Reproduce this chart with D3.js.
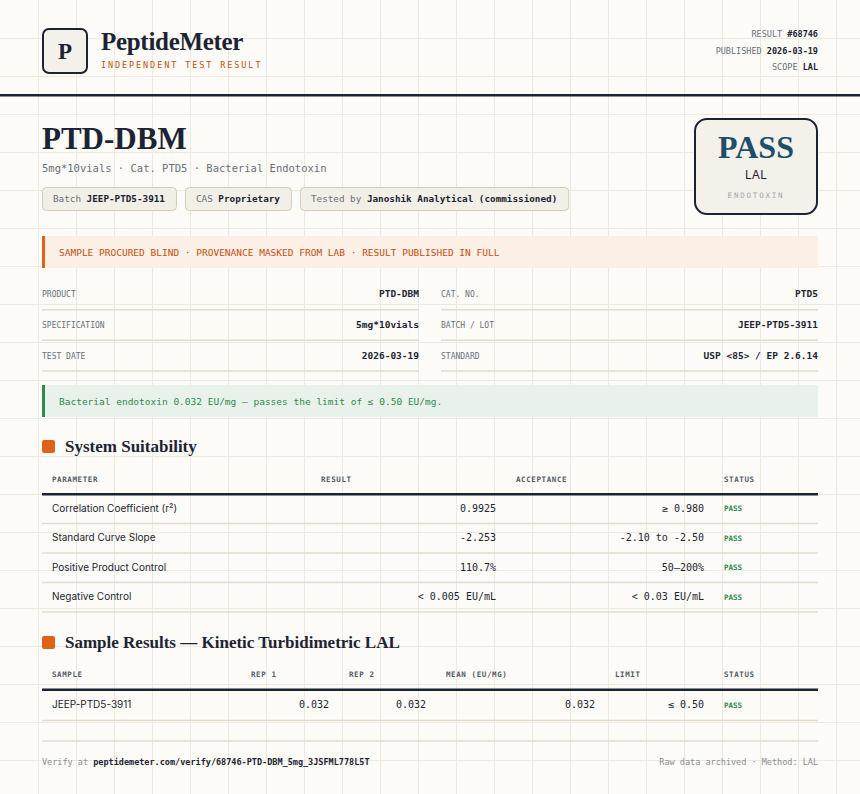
<!DOCTYPE html>
<html>
<head>
<meta charset="utf-8">
<script src="https://cdn.jsdelivr.net/npm/d3@7"></script>
<style>
  body { margin: 0; background: #fcfbf7; }
  svg { display: block; }
</style>
</head>
<body>
<svg id="page"></svg>
<script>
// ---- data ----
const headerMeta = [["RESULT", "#68746"], ["PUBLISHED", "2026-03-19"], ["SCOPE", "LAL"]];
const pills = [["Batch", "JEEP-PTD5-3911"], ["CAS", "Proprietary"], ["Tested by", "Janoshik Analytical (commissioned)"]];
const infoLeft = [["PRODUCT", "PTD-DBM"], ["SPECIFICATION", "5mg*10vials"], ["TEST DATE", "2026-03-19"]];
const infoRight = [["CAT. NO.", "PTD5"], ["BATCH / LOT", "JEEP-PTD5-3911"], ["STANDARD", "USP <85> / EP 2.6.14"]];
const suitColumns = ["PARAMETER", "RESULT", "ACCEPTANCE", "STATUS"];
const suitParams = ["Correlation Coefficient (r²)", "Standard Curve Slope", "Positive Product Control", "Negative Control"];
const suitResults = ["0.9925", "-2.253", "110.7%", "< 0.005 EU/mL"];
const suitAccept = ["≥ 0.980", "-2.10 to -2.50", "50–200%", "< 0.03 EU/mL"];
const suitStatus = ["PASS", "PASS", "PASS", "PASS"];
const sampleColumns = ["SAMPLE", "REP 1", "REP 2", "MEAN (EU/MG)", "LIMIT", "STATUS"];
const sampleRows = [["JEEP-PTD5-3911", "0.032", "0.032", "0.032", "≤ 0.50", "PASS"]];

const W = 860, H = 794;
const SERIF = "'Liberation Serif', 'DejaVu Serif', serif";
const MONO = "'DejaVu Sans Mono', 'Liberation Mono', monospace";
const SANS = "Inter, 'Noto Sans', sans-serif";
const INK = "#1c2433", GRAY = "#6b6f7a", ORANGE = "#c2500f", GREEN = "#2f8a4e", RULE = "#e3dccd";

const svg = d3.select("#page").attr("width", W).attr("height", H);

// background grid
const grid = svg.append("g").attr("stroke", "#ece9e1").attr("stroke-width", 1);
grid.selectAll("line.v").data(d3.range(38, W, 38)).join("line")
    .attr("x1", d => d + 0.5).attr("x2", d => d + 0.5).attr("y1", 0).attr("y2", H);
grid.selectAll("line.h").data(d3.range(38, H, 38)).join("line")
    .attr("y1", d => d + 0.5).attr("y2", d => d + 0.5).attr("x1", 0).attr("x2", W);

function text(g, x, y, str, o = {}) {
    return g.append("text").attr("x", x).attr("y", y).text(str)
        .attr("font-family", o.family || MONO).attr("font-size", o.size || 10)
        .attr("font-weight", o.weight || "normal").attr("fill", o.fill || INK)
        .attr("text-anchor", o.anchor || "start")
        .attr("letter-spacing", o.ls || 0);
}

// mixed label + value text
function pair(g, x, y, label, value, o = {}) {
    const t = g.append("text").attr("x", x).attr("y", y)
        .attr("font-family", MONO).attr("font-size", o.size || 9)
        .attr("text-anchor", o.anchor || "start");
    t.append("tspan").attr("fill", GRAY).text(label + " ");
    t.append("tspan").attr("fill", INK).attr("font-weight", "bold").text(value);
    return t;
}

// ---- header ----
svg.append("rect").attr("x", 43).attr("y", 29).attr("width", 44).attr("height", 44).attr("rx", 6)
    .attr("fill", "#f4f1ea").attr("stroke", INK).attr("stroke-width", 2);
text(svg, 65, 59, "P", {family: SERIF, size: 23, weight: "bold", anchor: "middle"});
text(svg, 101, 50, "PeptideMeter", {family: SERIF, size: 25, weight: "bold", ls: -0.3});
text(svg, 101, 68, "INDEPENDENT TEST RESULT", {size: 8.5, fill: ORANGE, ls: 1.9});
headerMeta.forEach((d, i) => pair(svg, 818, 37 + i * 16.5, d[0], d[1], {size: 8.5, anchor: "end"}));
svg.append("rect").attr("x", 0).attr("y", 94).attr("width", W).attr("height", 2.5).attr("fill", INK);

// ---- title block ----
text(svg, 42, 149, "PTD-DBM", {family: SERIF, size: 31, weight: "bold"});
text(svg, 42, 172, "5mg*10vials · Cat. PTD5 · Bacterial Endotoxin", {size: 10.5, fill: GRAY});
let px = 42;
pills.forEach(d => {
    const g = svg.append("g");
    const t = pair(g, px + 11, 202, d[0], d[1], {size: 9.3});
    const w = t.node().getComputedTextLength() + 22;
    g.insert("rect", "text").attr("x", px + 0.5).attr("y", 187.5).attr("width", w).attr("height", 23)
        .attr("rx", 4).attr("fill", "#f2efe7").attr("stroke", "#d5ccb8");
    px += w + 9;
});

// PASS badge
svg.append("rect").attr("x", 695).attr("y", 119).attr("width", 122).attr("height", 95).attr("rx", 12)
    .attr("fill", "#f4f1ea").attr("stroke", INK).attr("stroke-width", 2);
text(svg, 756, 158, "PASS", {family: SERIF, size: 32, weight: "bold", fill: "#1d4e6b", anchor: "middle"});
text(svg, 756, 179, "LAL", {family: SANS, size: 12, anchor: "middle"});
text(svg, 756, 198, "ENDOTOXIN", {size: 7.5, fill: "#a3a6ad", anchor: "middle", ls: 1.8});

// banners
function banner(y, h, bg, bar, str, color) {
    svg.append("rect").attr("x", 42).attr("y", y).attr("width", 776).attr("height", h).attr("fill", bg);
    svg.append("rect").attr("x", 42).attr("y", y).attr("width", 3).attr("height", h).attr("fill", bar);
    text(svg, 59, y + h / 2 + 3.5, str, {size: 9.5, fill: color});
}
banner(236, 32, "#fbefe6", "#e0611a", "SAMPLE PROCURED BLIND · PROVENANCE MASKED FROM LAB · RESULT PUBLISHED IN FULL", ORANGE);

// ---- info grid ----
const infoY = d3.scaleBand().domain(d3.range(infoLeft.length)).range([279, 371]);
function infoCol(rows, x0, x1) {
    rows.forEach((d, i) => {
        const y = infoY(i) + infoY.bandwidth() / 2 + 3;
        text(svg, x0, y, d[0], {size: 8, fill: GRAY});
        text(svg, x1, y, d[1], {size: 9.5, weight: "bold", anchor: "end"});
        svg.append("line").attr("x1", x0).attr("x2", x1)
            .attr("y1", infoY(i) + infoY.bandwidth()).attr("y2", infoY(i) + infoY.bandwidth())
            .attr("stroke", RULE).attr("stroke-width", 1.5);
    });
}
infoCol(infoLeft, 42, 419);
infoCol(infoRight, 441, 818);

banner(385, 32, "#e8f2ea", GREEN, "Bacterial endotoxin 0.032 EU/mg — passes the limit of ≤ 0.50 EU/mg.", GREEN);

// ---- tables ----
function section(y, title) {
    svg.append("rect").attr("x", 42).attr("y", y - 12).attr("width", 13).attr("height", 13).attr("rx", 2).attr("fill", "#e0611a");
    text(svg, 65, y, title, {family: SERIF, size: 17, weight: "bold"});
}

function table(top, cols, rows, rowH) {
    cols.forEach(c => text(svg, c.x, top, c.name, {size: 7.5, weight: "bold", fill: "#555a66", ls: 0.6}));
    const lineY = top + 12.5;
    svg.append("rect").attr("x", 42).attr("y", lineY - 1).attr("width", 776).attr("height", 2.5).attr("fill", INK);
    const y = d3.scaleBand().domain(d3.range(rows.length)).range([lineY, lineY + rowH * rows.length]);
    rows.forEach((r, i) => {
        const cy = y(i) + y.bandwidth() / 2 + 3;
        r.forEach((v, j) => {
            const c = cols[j];
            if (c.kind === "sans") text(svg, c.x, cy, v, {family: SANS, size: 10});
            else if (c.kind === "status") text(svg, c.x, cy - 0.5, v, {size: 7.5, weight: "bold", fill: GREEN});
            else text(svg, c.vx, cy, v, {size: 10, anchor: "end"});
        });
        svg.append("line").attr("x1", 42).attr("x2", 818)
            .attr("y1", y(i) + y.bandwidth()).attr("y2", y(i) + y.bandwidth())
            .attr("stroke", RULE).attr("stroke-width", 1.5);
    });
}

section(452, "System Suitability");
const suitX = [52, 321, 516, 724], suitVX = [null, 496, 704, null];
table(481.5, suitColumns.map((n, j) => ({name: n, x: suitX[j], vx: suitVX[j],
        kind: j === 0 ? "sans" : j === 3 ? "status" : "num"})),
    suitParams.map((p, i) => [p, suitResults[i], suitAccept[i], suitStatus[i]]), 29.5);

section(648, "Sample Results — Kinetic Turbidimetric LAL");
const sampX = [52, 251, 349, 446, 615, 724], sampVX = [null, 329, 426, 595, 704, null];
table(677, sampleColumns.map((n, j) => ({name: n, x: sampX[j], vx: sampVX[j],
        kind: j === 0 ? "sans" : j === 5 ? "status" : "num"})), sampleRows, 31);

// ---- footer ----
svg.append("line").attr("x1", 42).attr("x2", 818).attr("y1", 741).attr("y2", 741).attr("stroke", RULE).attr("stroke-width", 1.5);
const ft = svg.append("text").attr("x", 42).attr("y", 765).attr("font-family", MONO).attr("font-size", 8.5);
ft.append("tspan").attr("fill", "#8a8d96").text("Verify at ");
ft.append("tspan").attr("fill", INK).attr("font-weight", "bold").text("peptidemeter.com/verify/68746-PTD-DBM_5mg_3JSFML778L5T");
text(svg, 818, 765, "Raw data archived · Method: LAL", {size: 8.5, fill: "#8a8d96", anchor: "end"});
</script>
</body>
</html>
